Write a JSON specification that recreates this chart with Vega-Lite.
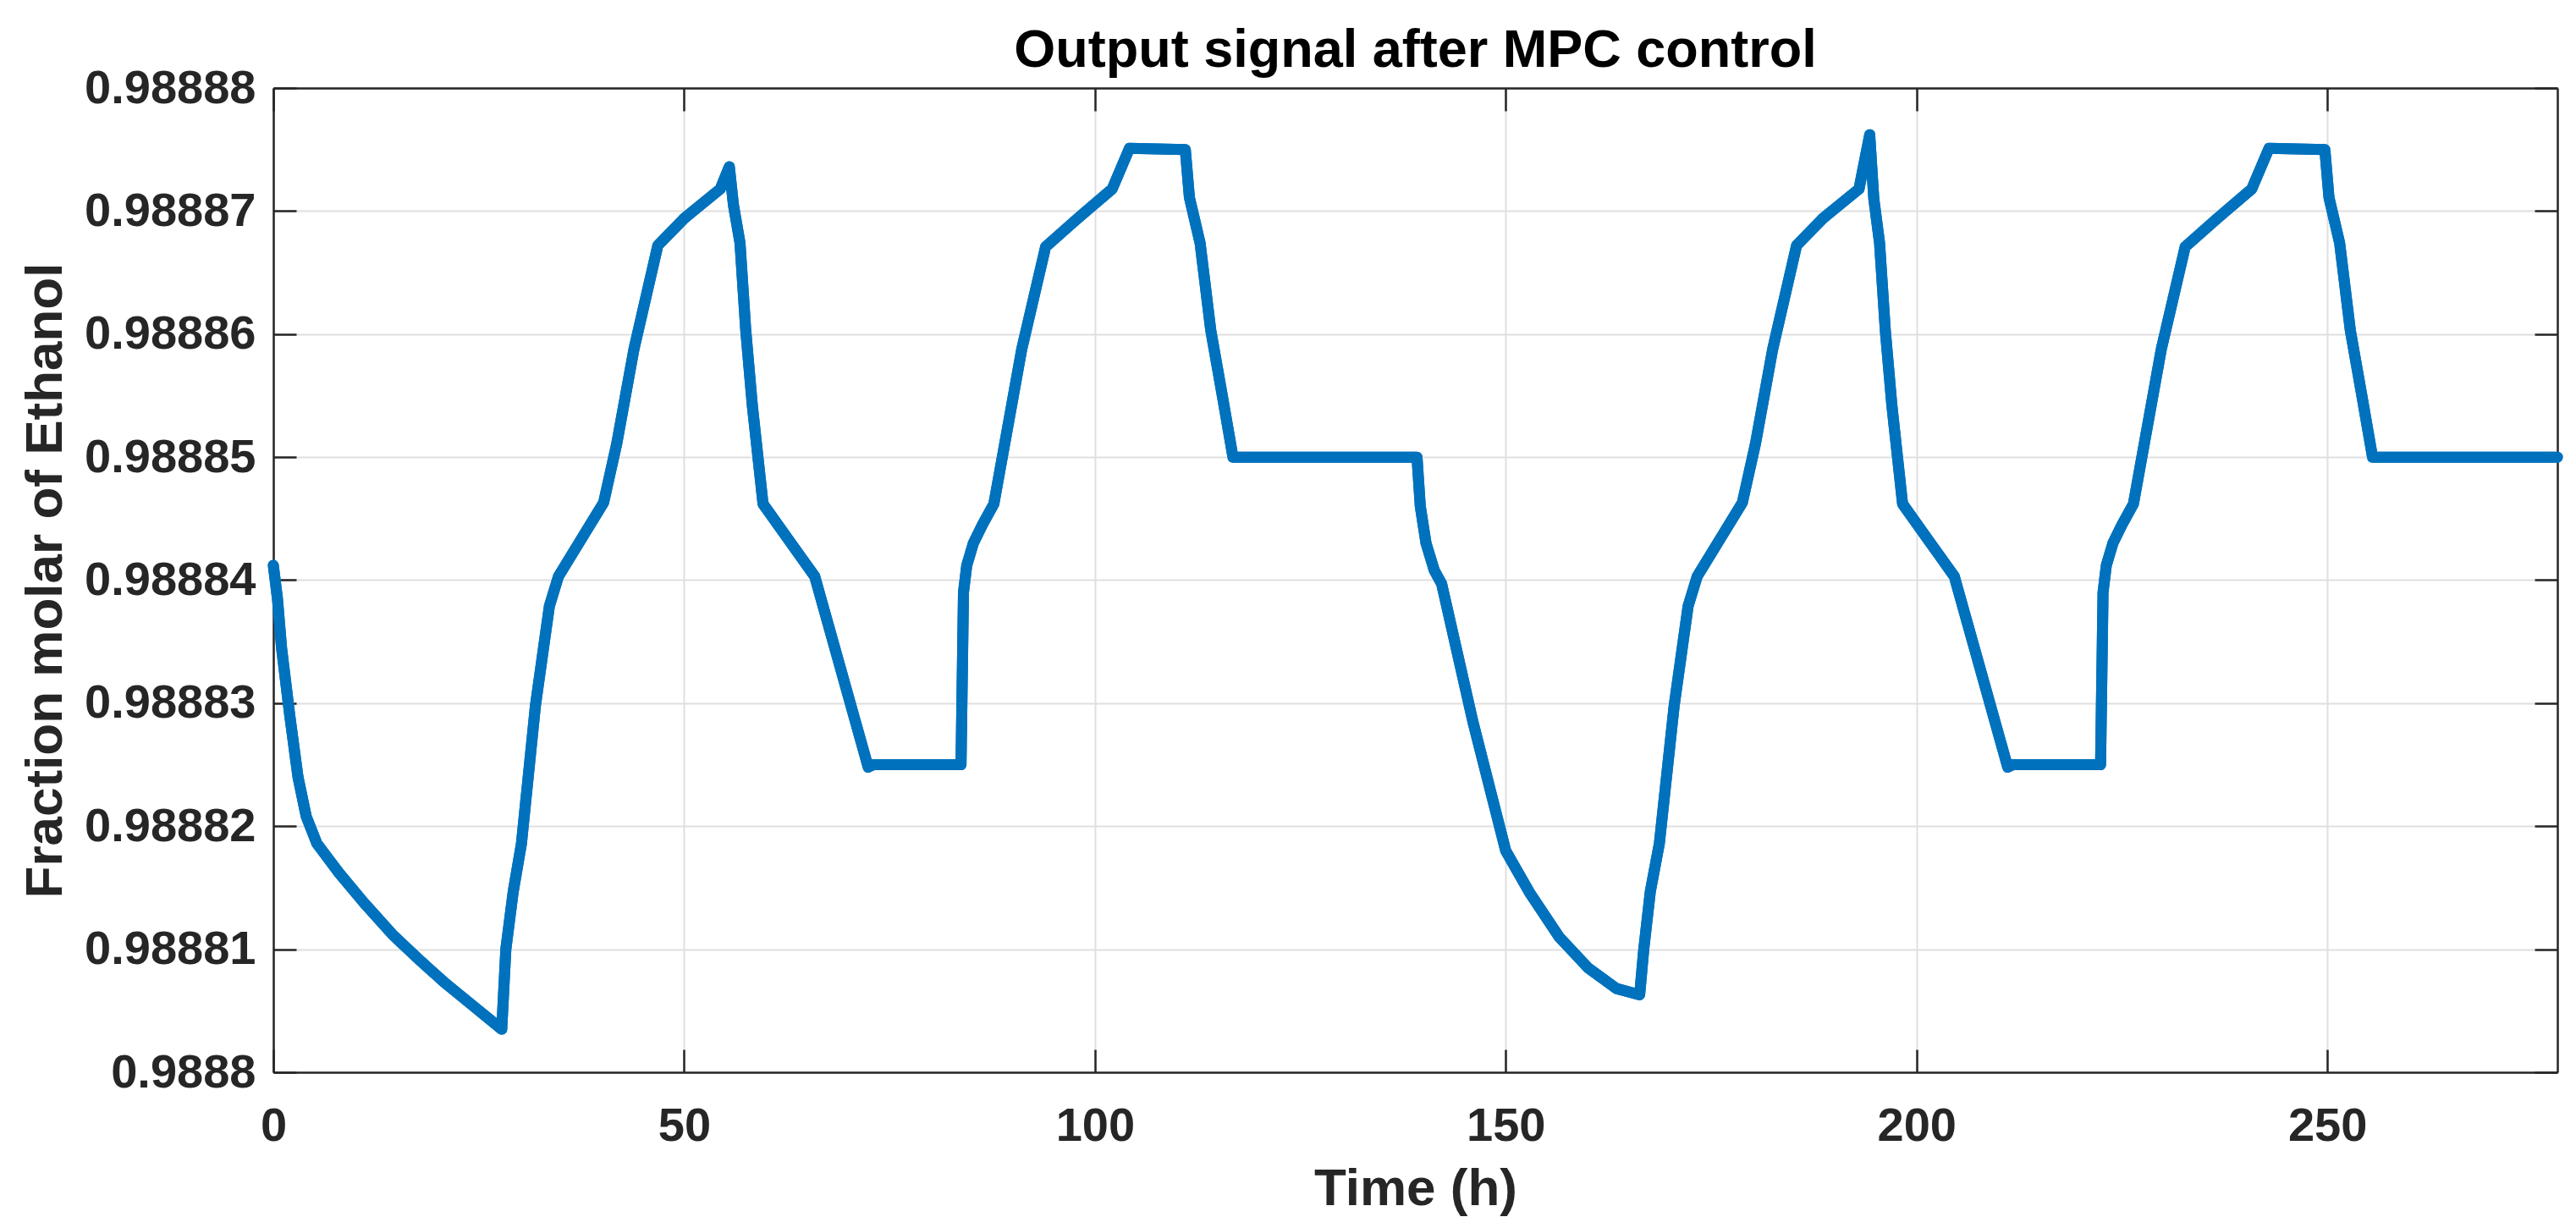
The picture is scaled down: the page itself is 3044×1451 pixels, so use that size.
{
  "$schema": "https://vega.github.io/schema/vega-lite/v6.json",
  "width": 2699,
  "height": 1163,
  "autosize": {"type": "none"},
  "padding": {"left": 323, "top": 104, "right": 22, "bottom": 184},
  "background": "white",
  "title": {
    "text": "Output signal after MPC control",
    "font": "Liberation Sans",
    "fontSize": 63,
    "fontWeight": "bold",
    "color": "#000000",
    "anchor": "middle",
    "baseline": "alphabetic",
    "offset": 20,
    "dy": 86
  },
  "config": {
    "view": {"stroke": null},
    "axis": {
      "labelFont": "Liberation Sans",
      "labelFontWeight": "bold",
      "labelFontSize": 56,
      "labelColor": "#262626",
      "labelLimit": 0,
      "labelFlush": false,
      "labelOverlap": false,
      "titleFont": "Liberation Sans",
      "titleFontWeight": "bold",
      "titleFontSize": 62,
      "titleColor": "#262626",
      "domainColor": "#262626",
      "domainWidth": 2.5,
      "tickColor": "#262626",
      "tickWidth": 2.5,
      "tickSize": -27,
      "gridColor": "#DFDFDF",
      "gridWidth": 2,
      "gridOpacity": 1
    }
  },
  "data": {
    "values": [
      {"t": 0, "v": 0.9888412},
      {"t": 0.5, "v": 0.9888385},
      {"t": 1, "v": 0.9888345},
      {"t": 2, "v": 0.988829},
      {"t": 3, "v": 0.988824},
      {"t": 4, "v": 0.9888208},
      {"t": 5.3, "v": 0.9888186},
      {"t": 8, "v": 0.9888162},
      {"t": 11, "v": 0.9888138},
      {"t": 14.5, "v": 0.9888112},
      {"t": 18, "v": 0.988809},
      {"t": 21, "v": 0.9888072},
      {"t": 24.5, "v": 0.9888053},
      {"t": 27.8, "v": 0.9888035},
      {"t": 28.3, "v": 0.98881},
      {"t": 29.2, "v": 0.9888147},
      {"t": 30.2, "v": 0.9888186},
      {"t": 31.9, "v": 0.9888298},
      {"t": 33.6, "v": 0.9888379},
      {"t": 34.7, "v": 0.9888403},
      {"t": 40.2, "v": 0.9888463},
      {"t": 41.8, "v": 0.9888511},
      {"t": 43.9, "v": 0.9888588},
      {"t": 46.8, "v": 0.9888672},
      {"t": 50, "v": 0.9888694},
      {"t": 54.4, "v": 0.9888718},
      {"t": 55.5, "v": 0.9888736},
      {"t": 56, "v": 0.9888705},
      {"t": 56.8, "v": 0.9888674},
      {"t": 57.5, "v": 0.9888603},
      {"t": 58.3, "v": 0.9888542},
      {"t": 59.6, "v": 0.9888462},
      {"t": 62.8, "v": 0.9888432},
      {"t": 65.9, "v": 0.9888403},
      {"t": 72.4, "v": 0.9888248},
      {"t": 73, "v": 0.988825},
      {"t": 83.7, "v": 0.988825},
      {"t": 84.0, "v": 0.988839},
      {"t": 84.4, "v": 0.9888412},
      {"t": 85.2, "v": 0.988843},
      {"t": 86.3, "v": 0.9888445},
      {"t": 87.7, "v": 0.9888462},
      {"t": 91.1, "v": 0.9888588},
      {"t": 94, "v": 0.9888671},
      {"t": 97.9, "v": 0.9888694},
      {"t": 102.1, "v": 0.9888718},
      {"t": 104.2, "v": 0.9888751},
      {"t": 111, "v": 0.988875},
      {"t": 111.5, "v": 0.9888711},
      {"t": 112.8, "v": 0.9888674},
      {"t": 114.1, "v": 0.9888603},
      {"t": 115.5, "v": 0.988855},
      {"t": 116.8, "v": 0.98885},
      {"t": 117.5, "v": 0.98885},
      {"t": 139.2, "v": 0.98885},
      {"t": 139.6, "v": 0.988846},
      {"t": 140.3, "v": 0.988843},
      {"t": 141.3, "v": 0.9888408},
      {"t": 142.2, "v": 0.9888397},
      {"t": 146, "v": 0.9888285},
      {"t": 150, "v": 0.988818},
      {"t": 153, "v": 0.9888145},
      {"t": 156.5, "v": 0.988811},
      {"t": 160, "v": 0.9888085},
      {"t": 163.5, "v": 0.9888068},
      {"t": 166.3, "v": 0.9888063},
      {"t": 166.8, "v": 0.98881},
      {"t": 167.6, "v": 0.9888147},
      {"t": 168.7, "v": 0.9888186},
      {"t": 170.5, "v": 0.9888298},
      {"t": 172.2, "v": 0.9888379},
      {"t": 173.3, "v": 0.9888403},
      {"t": 178.8, "v": 0.9888463},
      {"t": 180.4, "v": 0.9888511},
      {"t": 182.5, "v": 0.9888588},
      {"t": 185.4, "v": 0.9888672},
      {"t": 188.6, "v": 0.9888694},
      {"t": 193.0, "v": 0.9888718},
      {"t": 194.3, "v": 0.9888762},
      {"t": 194.8, "v": 0.988871},
      {"t": 195.5, "v": 0.9888674},
      {"t": 196.2, "v": 0.9888603},
      {"t": 197, "v": 0.9888542},
      {"t": 198.3, "v": 0.9888462},
      {"t": 201.5, "v": 0.9888432},
      {"t": 204.6, "v": 0.9888403},
      {"t": 211.1, "v": 0.9888248},
      {"t": 211.7, "v": 0.988825},
      {"t": 222.4, "v": 0.988825},
      {"t": 222.7, "v": 0.988839},
      {"t": 223.1, "v": 0.9888412},
      {"t": 223.9, "v": 0.988843},
      {"t": 225, "v": 0.9888445},
      {"t": 226.4, "v": 0.9888462},
      {"t": 229.8, "v": 0.9888588},
      {"t": 232.7, "v": 0.9888671},
      {"t": 236.6, "v": 0.9888694},
      {"t": 240.8, "v": 0.9888718},
      {"t": 242.9, "v": 0.9888751},
      {"t": 249.7, "v": 0.988875},
      {"t": 250.2, "v": 0.9888711},
      {"t": 251.5, "v": 0.9888674},
      {"t": 252.8, "v": 0.9888603},
      {"t": 254.2, "v": 0.988855},
      {"t": 255.5, "v": 0.98885},
      {"t": 256.2, "v": 0.98885},
      {"t": 278, "v": 0.98885}
    ]
  },
  "resolve": {"axis": {"x": "independent", "y": "independent"}},
  "layer": [
    {
      "mark": {"type": "line", "color": "#0072BD", "strokeWidth": 13, "strokeJoin": "round", "strokeCap": "round"},
      "encoding": {
        "x": {
          "field": "t", "type": "quantitative",
          "scale": {"domain": [0, 278], "nice": false, "zero": false},
          "axis": {
            "orient": "bottom",
            "title": "Time (h)",
            "values": [0, 50, 100, 150, 200, 250],
            "format": "d",
            "labelPadding": 63,
            "labelBaseline": "top",
            "titleY": 156,
            "titleBaseline": "alphabetic",
            "grid": true
          }
        },
        "y": {
          "field": "v", "type": "quantitative",
          "scale": {"domain": [0.9888, 0.98888], "nice": false, "zero": false},
          "axis": {
            "orient": "left",
            "title": "Fraction molar of Ethanol",
            "values": [0.9888, 0.98881, 0.98882, 0.98883, 0.98884, 0.98885, 0.98886, 0.98887, 0.98888],
            "format": ".5~f",
            "labelPadding": 48,
            "titleX": -251,
            "titleY": 581.5,
            "titleAngle": -90,
            "titleBaseline": "alphabetic",
            "grid": true
          }
        }
      }
    },
    {
      "mark": {"type": "line", "color": "#0072BD", "strokeWidth": 13, "strokeJoin": "round", "strokeCap": "round"},
      "encoding": {
        "x": {
          "field": "t", "type": "quantitative",
          "axis": {
            "orient": "top",
            "title": null,
            "values": [0, 50, 100, 150, 200, 250],
            "labels": false,
            "grid": false
          }
        },
        "y": {
          "field": "v", "type": "quantitative",
          "axis": {
            "orient": "right",
            "title": null,
            "values": [0.9888, 0.98881, 0.98882, 0.98883, 0.98884, 0.98885, 0.98886, 0.98887, 0.98888],
            "labels": false,
            "grid": false
          }
        }
      }
    }
  ]
}
